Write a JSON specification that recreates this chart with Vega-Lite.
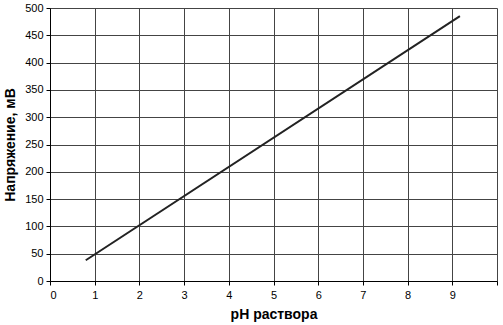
{
  "$schema": "https://vega.github.io/schema/vega-lite/v6.json",
  "autosize": "none",
  "width": 447,
  "height": 273,
  "padding": {"left": 50, "top": 8, "right": 6, "bottom": 44},
  "background": "white",
  "config": {
    "view": {"stroke": null},
    "font": "Liberation Sans",
    "axis": {
      "labelFont": "Liberation Sans",
      "titleFont": "Liberation Sans",
      "labelFontSize": 11,
      "labelColor": "#000",
      "titleColor": "#000",
      "titleFontSize": 14,
      "titleFontWeight": "bold",
      "domainColor": "#000",
      "tickColor": "#000",
      "gridColor": "#444",
      "gridOpacity": 1,
      "gridWidth": 1
    }
  },
  "data": {"values": [
    {"pH": 0.8, "mV": 38},
    {"pH": 9.17, "mV": 485}
  ]},
  "mark": {"type": "line", "color": "#222", "strokeWidth": 2},
  "encoding": {
    "x": {
      "field": "pH", "type": "quantitative",
      "scale": {"domain": [0, 10], "nice": false},
      "axis": {"values": [0,1,2,3,4,5,6,7,8,9,10], "labelExpr": "datum.value == 10 ? '' : datum.label", "title": "pH раствора", "tickSize": 4, "labelPadding": 4, "titlePadding": 7}
    },
    "y": {
      "field": "mV", "type": "quantitative",
      "scale": {"domain": [0, 500], "nice": false},
      "axis": {"values": [0,50,100,150,200,250,300,350,400,450,500], "title": "Напряжение, мВ", "tickSize": 4, "labelPadding": 3, "titlePadding": 7}
    }
  }
}
